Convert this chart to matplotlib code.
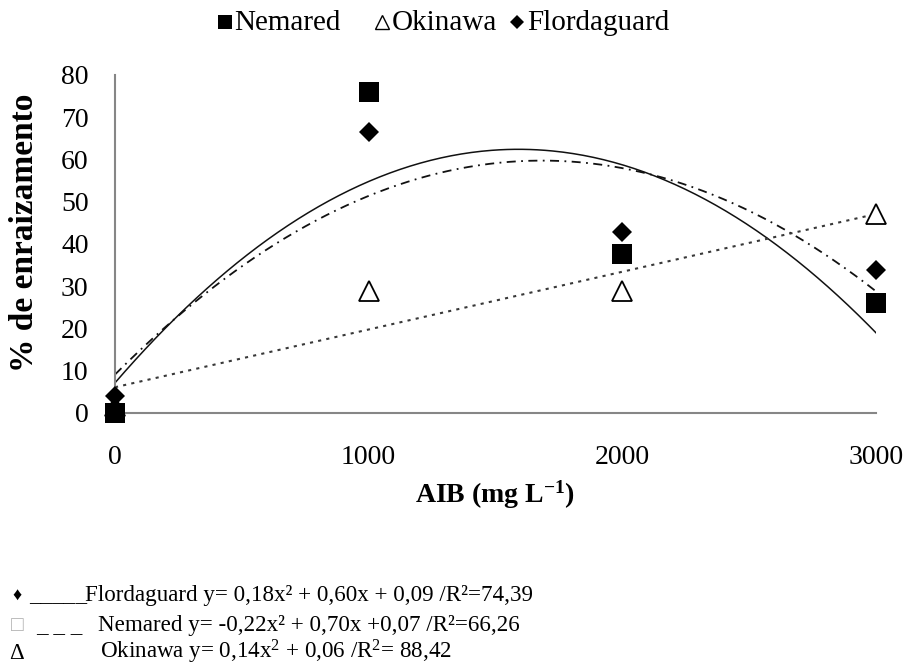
import numpy as np
import matplotlib
matplotlib.use("Agg")
import matplotlib.pyplot as plt
from matplotlib.lines import Line2D

# ---- data ----
doses = [0, 1000, 2000, 3000]
nemared = [0, 76, 37.5, 26]
okinawa = [1.5, 28.8, 28.8, 47.1]
flordaguard = [4, 66.5, 42.8, 33.8]
series_names = ["Nemared", "Okinawa", "Flordaguard"]
y_ticks = [0, 10, 20, 30, 40, 50, 60, 70, 80]
x_ticks = [0, 1000, 2000, 3000]

plt.rcParams['font.family'] = ['Liberation Serif', 'DejaVu Serif']
plt.rcParams['mathtext.fontset'] = 'custom'
plt.rcParams['mathtext.rm'] = 'Liberation Serif'
plt.rcParams['mathtext.it'] = 'Liberation Serif:italic'
plt.rcParams['mathtext.bf'] = 'Liberation Serif:bold'

W, H = 906, 666
fig = plt.figure(figsize=(W/100, H/100), dpi=100)
ax = fig.add_axes([115/W, 1-412.7/H, (876-115)/W, (412.7-75)/H])

def fx(px):
    return px / W

def fy(py):
    return 1 - py / H

xs = np.asarray(doses, float)
xx = np.linspace(0, 3000, 300)
# trendlines fitted to the data (as in the source spreadsheet)
pn = np.polyfit(xs, nemared, 2)
pf = np.polyfit(xs, flordaguard, 2)
po = np.polyfit(xs, okinawa, 1)
ax.plot(xx, np.polyval(pn, xx), color='#111111', lw=1.1, ls='-', zorder=2)
ax.plot(xx, np.polyval(pf, xx), color='#111111', lw=1.3, ls=(0, (5, 3, 1, 3)), zorder=2)
ax.plot(xx, np.polyval(po, xx), color='#383838', lw=1.5, ls=(0, (1.5, 2.5)), zorder=2)

ax.plot(doses, okinawa, ls='none', marker='^', ms=14.4, mfc='white', mec='black',
        mew=1.3, zorder=3, clip_on=False)
ax.plot(doses, nemared, ls='none', marker='s', ms=14.4, mfc='black', mec='black',
        mew=0, zorder=4, clip_on=False)
ax.plot(doses, flordaguard, ls='none', marker='D', ms=10.5, mfc='black', mec='black',
        mew=0, zorder=5, clip_on=False)

ax.set_xlim(0, 3000)
ax.set_ylim(0, 80)
ax.set_xticks(x_ticks)
ax.set_yticks(y_ticks)
ax.set_xticklabels([str(v) for v in x_ticks])
ax.set_yticklabels([str(v) for v in y_ticks])
ax.tick_params(axis='both', length=0, labelsize=20)
ax.tick_params(axis='y', pad=19)
ax.tick_params(axis='x', pad=23)
for s in ['top', 'right']:
    ax.spines[s].set_visible(False)
for s in ['left', 'bottom']:
    ax.spines[s].set_color('#868686')
    ax.spines[s].set_linewidth(1.5)
ax.patch.set_visible(False)

fig.text(fx(25), fy(233), '% de enraizamento', rotation=90, fontsize=24,
         fontweight='bold', ha='center', va='center')
fig.text(fx(495), fy(495), r'AIB (mg L$\mathbf{^{-1}}$)', fontsize=20,
         fontweight='bold', ha='center', va='center')

# top legend (markers + names)
leg_y = 22
leg_items = [
    (225, 234, dict(marker='s', ms=10.5, mfc='black', mec='black', mew=0)),
    (382, 392, dict(marker='^', ms=10.5, mfc='white', mec='black', mew=1.0)),
    (517, 527, dict(marker='D', ms=7.5, mfc='black', mec='black', mew=0)),
]
for name, (mx, tx, style) in zip(series_names, leg_items):
    fig.add_artist(Line2D([fx(mx)], [fy(leg_y)], transform=fig.transFigure,
                          ls='none', **style))
    fig.text(fx(tx), fy(30), name, fontsize=21, ha='left', va='baseline')

# equation notes
fs = 16.6
rows = [601, 631, 659]
fig.text(fx(12), fy(rows[0] - 1), '\u2666', fontsize=13, va='baseline', ha='left')
fig.text(fx(29), fy(rows[0]), '_____', fontsize=fs, va='baseline', ha='left')
fig.text(fx(85), fy(rows[0]), 'Flordaguard y= 0,18x\u00b2 + 0,60x + 0,09 /R\u00b2=74,39',
         fontsize=fs, va='baseline', ha='left')
fig.text(fx(11), fy(rows[1]), '\u25a1', fontsize=15, va='baseline', ha='left', color='#b0b0b0')
fig.text(fx(36), fy(rows[1]), '_ _ _', fontsize=fs, va='baseline', ha='left')
fig.text(fx(98), fy(rows[1]), 'Nemared y= -0,22x\u00b2 + 0,70x +0,07 /R\u00b2=66,26',
         fontsize=fs, va='baseline', ha='left')
fig.text(fx(9), fy(rows[2]), '\u0394', fontsize=fs, va='baseline', ha='left')
fig.text(fx(100), fy(rows[2]), r'Okinawa y= 0,14x$^{2}$ + 0,06 /R$^{2}$= 88,42',
         fontsize=fs, va='baseline', ha='left')

fig.savefig('out.png', dpi=100)
